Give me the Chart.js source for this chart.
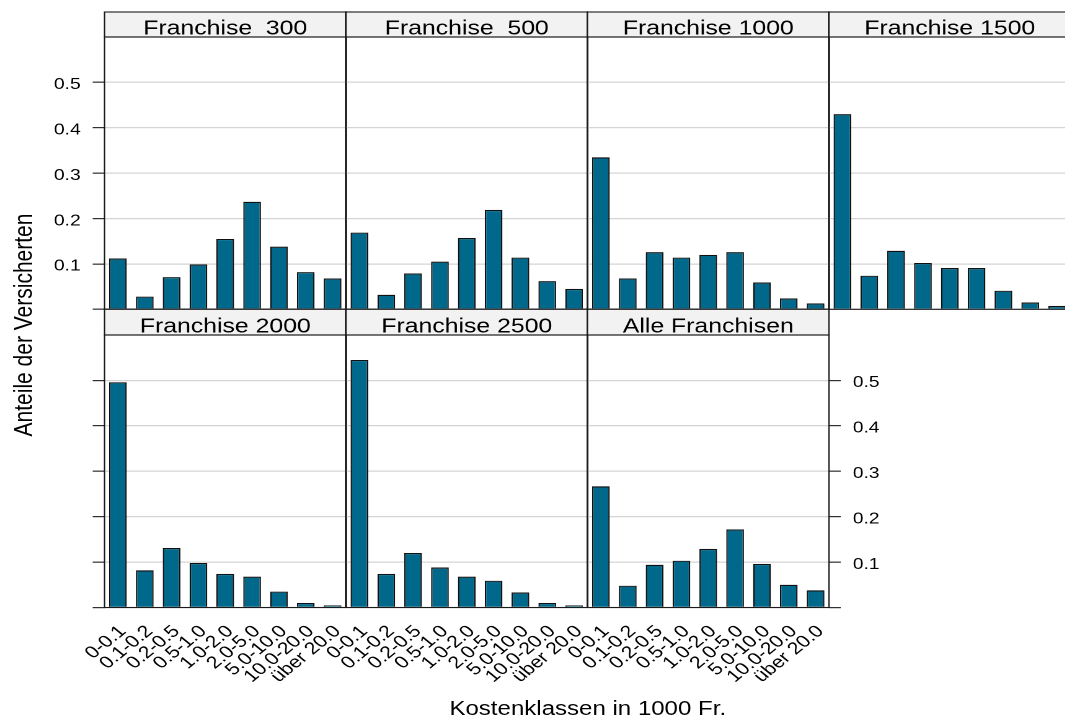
<!DOCTYPE html>
<html>
<head>
<meta charset="utf-8">
<script src="https://cdn.jsdelivr.net/npm/chart.js@4/dist/chart.umd.min.js"></script>
<style>
  html, body { margin: 0; padding: 0; overflow: hidden; background: #fff; width: 1065px; height: 718px; }
  #stage { position: absolute; left: 0; top: 0; width: 866px; height: 718px;
           transform: scaleX(1.24); transform-origin: 0 0; }
  #stage canvas { position: absolute; left: 0; top: 0; }
  .ttl { position: absolute; font-family: "Liberation Sans", Arial, Helvetica, sans-serif;
         color: #000; white-space: nowrap; line-height: 19px; }
  #ytitle { left: 17.7px; top: 325px; font-size: 21px; transform: translate(-50%, -50%) rotate(-90deg); }
  #xtitle { left: 474px; top: 699.4px; font-size: 19.4px; transform: translateX(-50%); }
</style>
</head>
<body>
<div id="stage">
  <div class="ttl" id="ytitle">Anteile der Versicherten</div>
  <div class="ttl" id="xtitle">Kostenklassen in 1000 Fr.</div>
</div>
<script>
// Cost classes (in 1000 Fr.) shared by every panel
const categories = ['0-0.1', '0.1-0.2', '0.2-0.5', '0.5-1.0', '1.0-2.0',
                    '2.0-5.0', '5.0-10.0', '10.0-20.0', 'über 20.0'];

// Share of insured persons per cost class, by deductible (Franchise)
const franchise300  = [0.112, 0.028, 0.071, 0.099, 0.155, 0.237, 0.138, 0.082, 0.068];
const franchise500  = [0.169, 0.032, 0.079, 0.105, 0.157, 0.219, 0.114, 0.062, 0.045];
const franchise1000 = [0.335, 0.068, 0.126, 0.114, 0.120, 0.126, 0.059, 0.024, 0.013];
const franchise1500 = [0.430, 0.074, 0.129, 0.102, 0.091, 0.091, 0.041, 0.015, 0.0075];
const franchise2000 = [0.496, 0.082, 0.131, 0.098, 0.074, 0.068, 0.035, 0.010, 0.0046];
const franchise2500 = [0.545, 0.074, 0.120, 0.088, 0.068, 0.059, 0.033, 0.010, 0.0046];
const alleFranchisen = [0.267, 0.048, 0.094, 0.103, 0.129, 0.172, 0.096, 0.050, 0.038];

const panelTitles = ['Franchise  300', 'Franchise  500', 'Franchise 1000', 'Franchise 1500',
                     'Franchise 2000', 'Franchise 2500', 'Alle Franchisen'];

// y axis: 0 .. 0.6, ticks every 0.1 (0 gets a mark but no label)
const yMin = 0, yMax = 0.6, yStep = 0.1;

// ---- layout of the trellis (drawing is stretched horizontally by SX) ----
const SX = 1.24;
const W = 866, H = 718;
const FONT = '"Liberation Sans", Arial, Helvetica, sans-serif';
const BAR = '#00688B';
const colLeft = c => (104.5 + c * 241.5) / SX;
const panelW = 241.5 / SX;
const Y_AXIS_W = 60;   // room kept for y tick labels
const X_AXIS_H = 90;   // room kept for rotated x tick labels
const rows = [
  { stripTop: 12,    plotTop: 37,  plotBottom: 309.3 },
  { stripTop: 309.3, plotTop: 335, plotBottom: 607.5 }
];

const panels = [
  { title: panelTitles[0], values: franchise300,   col: 0, row: 0, yAxis: 'left',  yLabels: true,  xLabels: false },
  { title: panelTitles[1], values: franchise500,   col: 1, row: 0, yAxis: 'none',  yLabels: false, xLabels: false },
  { title: panelTitles[2], values: franchise1000,  col: 2, row: 0, yAxis: 'none',  yLabels: false, xLabels: false },
  { title: panelTitles[3], values: franchise1500,  col: 3, row: 0, yAxis: 'right', yLabels: false, xLabels: false },
  { title: panelTitles[4], values: franchise2000,  col: 0, row: 1, yAxis: 'left',  yLabels: false, xLabels: true },
  { title: panelTitles[5], values: franchise2500,  col: 1, row: 1, yAxis: 'none',  yLabels: false, xLabels: true },
  { title: panelTitles[6], values: alleFranchisen, col: 2, row: 1, yAxis: 'right', yLabels: true,  xLabels: true }
];

// Strip on top of each panel plus the panel frame
function panelFrame(title, stripTop) {
  return {
    id: 'panelFrame',
    afterDraw(chart) {
      const a = chart.chartArea;
      const ctx = chart.ctx;
      ctx.save();
      ctx.fillStyle = '#f2f2f2';
      ctx.fillRect(a.left, stripTop, a.right - a.left, a.top - stripTop);
      ctx.strokeStyle = '#1a1a1a';
      ctx.lineWidth = 1.1;
      ctx.strokeRect(a.left, stripTop, a.right - a.left, a.top - stripTop);
      ctx.strokeRect(a.left, a.top, a.right - a.left, a.bottom - a.top);
      ctx.fillStyle = '#000';
      ctx.font = '20px ' + FONT;
      ctx.textAlign = 'center';
      ctx.textBaseline = 'alphabetic';
      ctx.fillText(title, (a.left + a.right) / 2, a.top - 2.6);
      ctx.restore();
    }
  };
}

const stage = document.getElementById('stage');

panels.forEach(p => {
  const cv = document.createElement('canvas');
  cv.width = W; cv.height = H;
  stage.appendChild(cv);
  const r = rows[p.row];
  const L = colLeft(p.col), R = L + panelW;
  const hasTicks = p.yAxis !== 'none';
  const yw = hasTicks ? Y_AXIS_W : 0;
  const xh = p.xLabels ? X_AXIS_H : 0;
  const pad = {
    left: p.yAxis === 'left' ? L - yw : L,
    right: p.yAxis === 'right' ? W - R - yw : W - R,
    top: r.plotTop,
    bottom: H - r.plotBottom - xh
  };

  new Chart(cv, {
    type: 'bar',
    data: {
      labels: categories,
      datasets: [{
        data: p.values,
        backgroundColor: BAR,
        borderColor: '#111',
        borderWidth: 1.2,
        barPercentage: 0.66,
        categoryPercentage: 1
      }]
    },
    options: {
      responsive: false,
      animation: false,
      devicePixelRatio: 2,
      events: [],
      layout: { padding: pad },
      plugins: { legend: { display: false }, tooltip: { enabled: false }, title: { display: false } },
      scales: {
        x: {
          type: 'category',
          offset: true,
          grid: { display: false, drawTicks: false },
          border: { display: false },
          ticks: {
            display: p.xLabels,
            autoSkip: false,
            minRotation: 45,
            maxRotation: 45,
            padding: 14,
            labelOffset: 4,
            color: '#000',
            font: { family: FONT, size: 17 }
          },
          afterFit(s) { s.height = xh; }
        },
        y: {
          type: 'linear',
          position: p.yAxis === 'right' ? 'right' : 'left',
          min: yMin,
          max: yMax,
          z: 1,
          grid: {
            color: '#d4d4d4',
            lineWidth: 1.3,
            drawTicks: hasTicks,
            tickLength: 9.5,
            tickColor: '#1a1a1a',
            tickWidth: 1.1
          },
          border: { display: false },
          ticks: {
            display: hasTicks,
            stepSize: yStep,
            padding: 9.7,
            labelOffset: 2.5,
            color: '#000',
            font: { family: FONT, size: 15.5 },
            callback: v => (p.yLabels && v > 0.05) ? v.toFixed(1) : ''
          },
          afterBuildTicks(s) { s.ticks = s.ticks.filter(t => t.value < yMax - yStep / 2); },
          afterFit(s) { s.width = yw; }
        }
      }
    },
    plugins: [panelFrame(p.title, r.stripTop)]
  });
});
</script>
</body>
</html>
